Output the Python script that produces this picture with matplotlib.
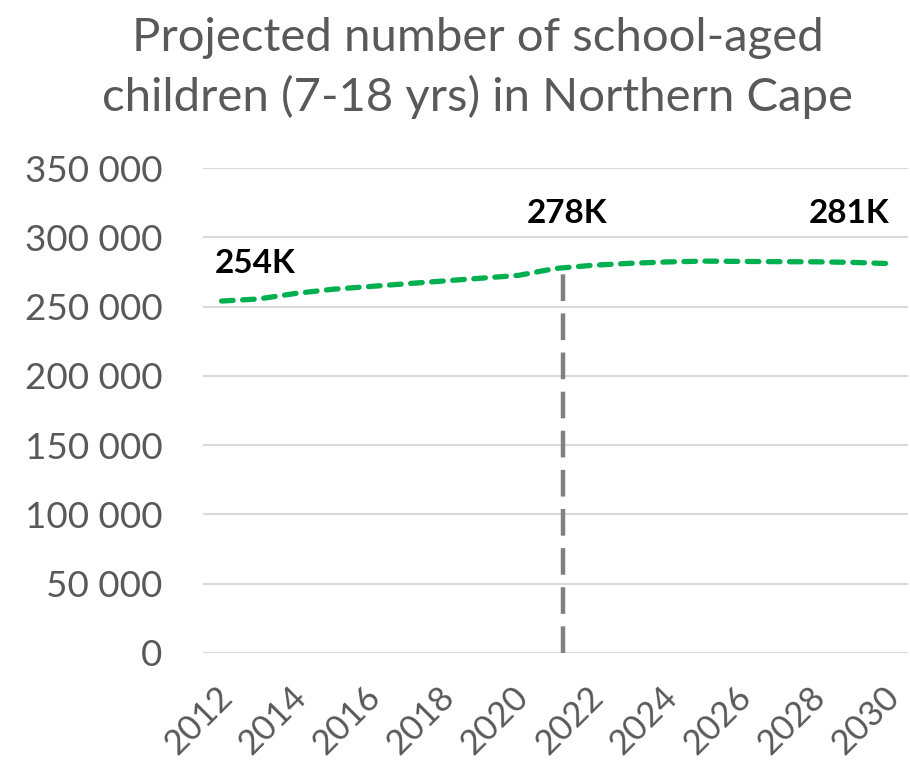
import matplotlib.pyplot as plt
import matplotlib.transforms as mtransforms
import numpy as np

# Data
years = np.arange(2012, 2031)
children = [254000, 255500, 259500, 262500, 264500, 266500, 268500, 270500, 272500,
            277500, 279800, 281200, 282200, 282800, 282600, 282400, 282300, 281900, 281000]
marker_year = 2021.2
marker_value = 278000
label_texts = ['254K', '278K', '281K']
label_x = [2012.9, 2021.3, 2028.9]
label_y = [281000, 317500, 317500]
yticks = [0, 50000, 100000, 150000, 200000, 250000, 300000, 350000]
ytick_labels = ['0', '50 000', '100 000', '150 000', '200 000', '250 000', '300 000', '350 000']
xticks = list(range(2012, 2031, 2))

plt.rcParams['font.family'] = ['Lato', 'DejaVu Sans']

fig = plt.figure(figsize=(9.1, 7.68), dpi=100)
ax = fig.add_axes([203 / 910, 1 - 653 / 768, 705 / 910, 485 / 768])

grey = '#595959'

# gridlines
for v in yticks:
    ax.axhline(v, color='#d9d9d9', lw=1.5, zorder=0)

# marker line
ax.vlines(marker_year, 0, marker_value, color='#808080', lw=3.2,
          linestyles=(0, (6, 2.8)), zorder=2)

# projection line
ax.plot(years, children, color='#00B050', lw=3.8, linestyle=(0, (2.2, 1.8)),
        dash_capstyle='round', zorder=3)

# data labels
for t, x, y in zip(label_texts, label_x, label_y):
    ax.text(x, y, t, ha='center', va='center', fontsize=24, fontweight='bold',
            color='black', zorder=4,
            bbox=dict(facecolor='white', edgecolor='none', pad=1))

ax.set_xlim(2011.5, 2030.5)
ax.set_ylim(0, 350000)
ax.set_yticks(yticks)
ax.set_yticklabels(ytick_labels, fontsize=26.5, color=grey)
ax.set_xticks(xticks)
ax.set_xticklabels([str(x) for x in xticks], fontsize=25, color=grey,
                   rotation=45, ha='right', rotation_mode='anchor')
ax.tick_params(length=0)
ax.tick_params(axis='y', pad=29)
ax.tick_params(axis='x', pad=20)
shift = mtransforms.ScaledTranslation(-6 / 100, 0, fig.dpi_scale_trans)
for lbl in ax.get_xticklabels():
    lbl.set_transform(lbl.get_transform() + shift)
for s in ax.spines.values():
    s.set_visible(False)

fig.text(0.525, 0.978, 'Projected number of school-aged\nchildren (7-18 yrs) in Northern Cape',
         ha='center', va='top', fontsize=34, color=grey, linespacing=1.45)

fig.savefig('out.png', dpi=100)
